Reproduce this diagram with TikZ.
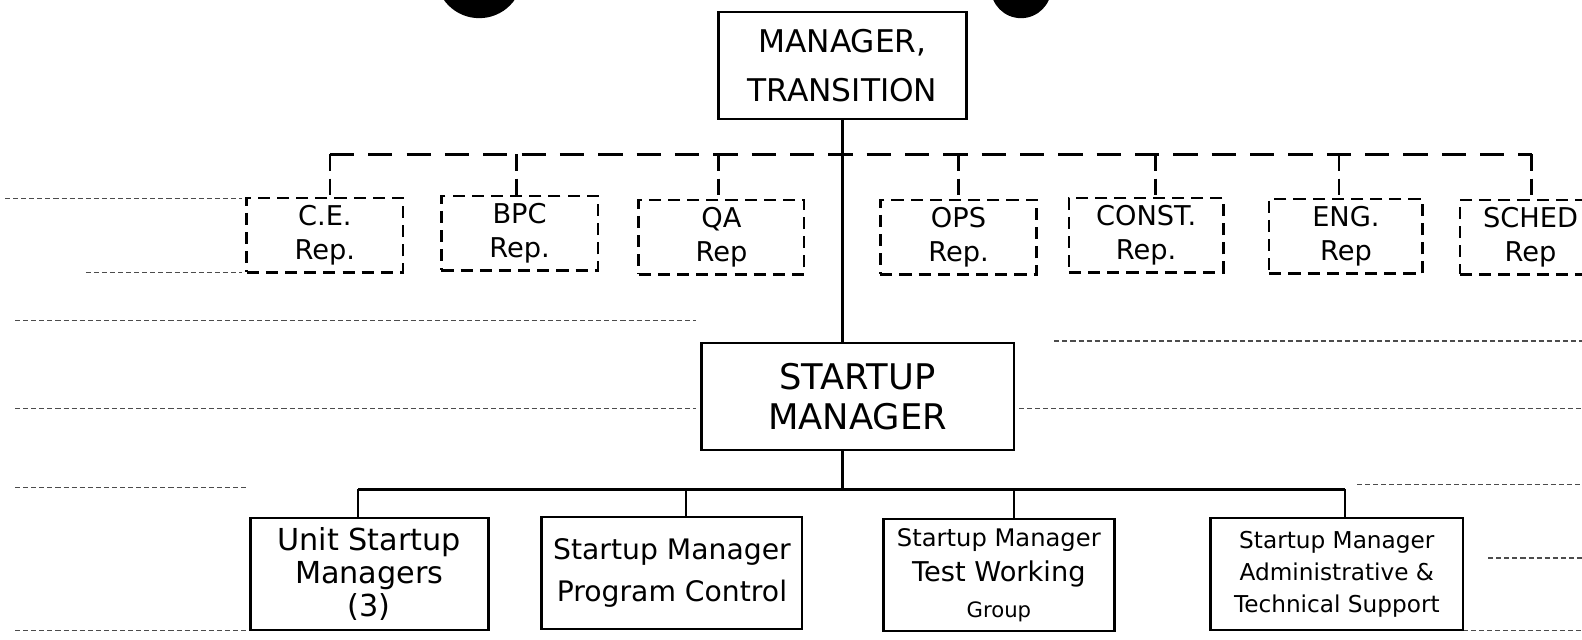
\documentclass[tikz,border=0pt]{standalone}
\usepackage{fontspec}
\setmainfont{DejaVu Sans}
\usetikzlibrary{positioning,calc}

\tikzset{
  orgbox/.style={draw, line width=2.6pt, align=center, inner sep=0pt},
  repbox/.style={draw, line width=2.4pt, dash pattern=on 12pt off 7pt, align=center, inner sep=0pt,
    minimum height=74pt, font=\fontsize{27}{34}\selectfont},
  unitbox/.style={orgbox, minimum height=111pt, font=\fontsize{27}{34}\selectfont},
  bus/.style={line width=2.6pt},
  dashbus/.style={line width=2.6pt, dash pattern=on 24pt off 14pt},
  paperline/.style={line width=1.2pt, dash pattern=on 5pt off 3pt, black!70},
}

\begin{document}
\begin{tikzpicture}[x=1pt, y=-1pt]
\useasboundingbox (0,0) rectangle (1568,634);
\clip (0,0) rectangle (1568,634);

% punch holes and ruling of the sheet
\fill (475,-25) circle (43);
\fill (1012,-12) circle (30);
\draw[paperline] (5,197) -- (240,197);
\draw[paperline] (85,270) -- (240,270);
\draw[paperline] (15,318) -- (690,318);
\draw[paperline] (1045,338) -- (1568,338);
\draw[paperline] (15,405) -- (690,405);
\draw[paperline] (1010,405) -- (1568,405);
\draw[paperline] (15,483) -- (245,483);
\draw[paperline] (1345,480) -- (1568,480);
\draw[paperline] (1475,553) -- (1568,553);
\draw[paperline] (15,625) -- (245,625);
\draw[paperline] (1450,625) -- (1568,625);

% top of the chart
\node[orgbox, minimum width=246pt, minimum height=106pt, font=\fontsize{31}{48}\selectfont]
  (mgr) at (835,65) {MANAGER,\\TRANSITION};

% representatives (dotted line)
\node[repbox, minimum width=155pt] (ce)    at (322,233) {C.E.\\Rep.};
\node[repbox, minimum width=155pt] (bpc)   at (515,231) {BPC\\Rep.};
\node[repbox, minimum width=164pt] (qa)    at (715,235) {QA\\Rep};
\node[repbox, minimum width=155pt] (ops)   at (950,235) {OPS\\Rep.};
\node[repbox, minimum width=153pt] (const) at (1136,233) {CONST.\\Rep.};
\node[repbox, minimum width=152pt] (eng)   at (1334,234) {ENG.\\Rep};
\node[repbox, minimum width=140pt] (sched) at (1517,235) {SCHED\\Rep};

\coordinate (d1) at (327,153);
\coordinate (d2) at (512,153);
\coordinate (d3) at (712,153);
\coordinate (d4) at (950,153);
\coordinate (d5) at (1145,153);
\coordinate (d6) at (1327,153);
\coordinate (d7) at (1518,153);
\draw[dashbus] (d1) -- (d7);
\foreach \d/\b in {d1/ce, d2/bpc, d3/qa, d4/ops, d5/const, d6/eng, d7/sched}
  \draw[dashbus, dash pattern=on 16pt off 8pt] (\d) -- (\d |- \b.north);

% startup manager
\node[orgbox, minimum width=310pt, minimum height=106pt, font=\fontsize{35}{40}\selectfont]
  (su) at (850,393) {STARTUP\\MANAGER};
\draw[bus] (mgr.south) -- (mgr.south |- su.north);

% startup groups
\node[unitbox, minimum width=236pt, font=\fontsize{30}{33}\selectfont]
  (unit) at (366,569) {Unit Startup\\Managers\\(3)};
\node[unitbox, minimum width=258pt, font=\fontsize{28}{42}\selectfont]
  (prog) at (666,568) {Startup Manager\\Program Control};
\node[unitbox, minimum width=229pt, font=\fontsize{24}{35}\selectfont]
  (test) at (990,570) {Startup Manager\\{\fontsize{27}{35}\selectfont Test Working}\\{\fontsize{21}{24}\selectfont Group}};
\node[unitbox, minimum width=250pt, font=\fontsize{23}{32}\selectfont]
  (admin) at (1325,569) {Startup Manager\\Administrative \&\\Technical Support};

\coordinate (b1) at (355,485);
\coordinate (b2) at (680,485);
\coordinate (b3) at (1005,485);
\coordinate (b4) at (1333,485);
\draw[bus] (mgr.south |- su.south) -- (mgr.south |- b1);
\draw[bus] (b1) -- (b4);
\foreach \d/\b in {b1/unit, b2/prog, b3/test, b4/admin}
  \draw[bus] (\d) -- (\d |- \b.north);
\end{tikzpicture}
\end{document}
